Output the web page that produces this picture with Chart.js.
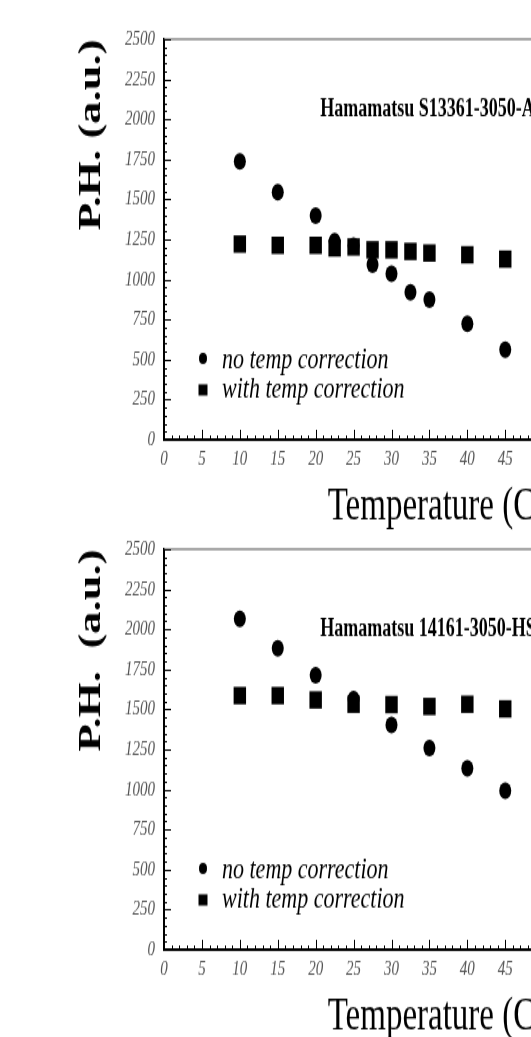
<!DOCTYPE html>
<html>
<head>
<meta charset="utf-8">
<script src="https://cdn.jsdelivr.net/npm/chart.js"></script>
<style>
    html, body { margin: 0; padding: 0; background: #fff; overflow: hidden; width: 531px; height: 1037px; }
    #stage { position: relative; width: 531px; height: 1037px; overflow: hidden; }
    /* the source figure is stretched vertically: canvases are drawn at 400px and shown at 560px */
    #stage canvas { position: absolute; left: 0; width: 760px; height: 560px; }
</style>
</head>
<body>
<div id="stage">
    <canvas id="chartTop" width="760" height="400" style="top:0;width:760px;height:560px"></canvas>
    <canvas id="chartBottom" width="760" height="400" style="top:510px;width:760px;height:560px"></canvas>
</div>
<script>
// ---- data ----
const TEMPS_TOP = [10, 15, 20, 22.5, 25, 27.5, 30, 32.5, 35, 40, 45];
const PH_NO_CORR_TOP = [1737, 1545, 1398, 1240, 1210, 1092, 1036, 919, 874, 724, 562];
const PH_CORR_TOP = [1221, 1213, 1213, 1197, 1203, 1185, 1185, 1175, 1165, 1154, 1127];

const TEMPS_BOTTOM = [10, 15, 20, 25, 30, 35, 40, 45];
const PH_NO_CORR_BOTTOM = [2066, 1882, 1714, 1565, 1404, 1259, 1131, 993];
const PH_CORR_BOTTOM = [1586, 1586, 1559, 1532, 1530, 1518, 1532, 1503];

const SERIES_LABELS = ['no temp correction', 'with temp correction'];
const DEVICE_TOP = 'Hamamatsu S13361-3050-AE';
const DEVICE_BOTTOM = 'Hamamatsu 14161-3050-HS';
const Y_TITLE_TOP = 'P.H. (a.u.)';
const Y_TITLE_BOTTOM = 'P.H.  (a.u.)';
const X_TITLE = 'Temperature (C)';

const X_MIN = 0, X_MAX = 72, X_STEP = 5, X_MINOR = 1;
const Y_MIN = 0, Y_MAX = 2500, Y_STEP = 250, Y_MINOR = 50;

const SERIF = "'Liberation Serif', 'Times New Roman', serif";

const toPoints = (xs, ys) => xs.map((x, i) => ({ x: x, y: ys[i] }));

// inward ticks, grey top frame, device name and the legend inside the plot
const frameDecor = {
    id: 'frameDecor',
    afterDraw(chart, args, opts) {
        const { ctx, chartArea: a, scales: { x, y } } = chart;
        ctx.save();

        ctx.strokeStyle = '#8c8c8c';
        ctx.lineWidth = 1.5;
        ctx.beginPath();
        ctx.moveTo(a.left, a.top);
        ctx.lineTo(a.right, a.top);
        ctx.stroke();

        ctx.strokeStyle = '#000';
        ctx.lineWidth = 1;
        ctx.beginPath();
        for (let v = X_MIN; v <= X_MAX; v += X_MINOR) {
            const px = Math.round(x.getPixelForValue(v)) + 0.5;
            const len = v % X_STEP === 0 ? 7 : 3;
            ctx.moveTo(px, a.bottom);
            ctx.lineTo(px, a.bottom - len);
        }
        for (let v = Y_MIN; v <= Y_MAX; v += Y_MINOR) {
            const py = Math.round(y.getPixelForValue(v)) + 0.5;
            const len = v % Y_STEP === 0 ? 7 : 3;
            ctx.moveTo(a.left, py);
            ctx.lineTo(a.left + len, py);
        }
        ctx.stroke();

        // device name
        ctx.fillStyle = '#000';
        ctx.font = "bold 18px " + SERIF;
        ctx.textAlign = 'left';
        ctx.textBaseline = 'alphabetic';
        ctx.fillText(opts.device, x.getPixelForValue(opts.deviceX), y.getPixelForValue(opts.deviceY));

        // legend
        ctx.font = "italic 22px " + SERIF;
        const markX = 203, textX = 222;
        const rows = [{ mark: a.bottom - 58, text: a.bottom - 51 }, { mark: a.bottom - 35.5, text: a.bottom - 30 }];
        chart.data.datasets.forEach((ds, i) => {
            const r = rows[i];
            ctx.beginPath();
            if (ds.pointStyle === 'rect') {
                ctx.rect(markX - 4.5, r.mark - 4, 9, 8);
            } else {
                ctx.arc(markX, r.mark, 4, 0, Math.PI * 2);
            }
            ctx.fill();
            ctx.fillText(ds.label, textX, r.text);
        });
        ctx.restore();
    }
};

function makeChart(canvasId, temps, noCorr, withCorr, yTitle, device, deviceX, deviceY) {
    const ctx = document.getElementById(canvasId).getContext('2d');
    return new Chart(ctx, {
        type: 'scatter',
        data: {
            datasets: [{
                label: SERIES_LABELS[0],
                data: toPoints(temps, noCorr),
                pointStyle: 'circle',
                pointRadius: 6,
                backgroundColor: '#000',
                borderWidth: 0
            }, {
                label: SERIES_LABELS[1],
                data: toPoints(temps, withCorr),
                pointStyle: 'rect',
                pointRadius: 8.8,
                backgroundColor: '#000',
                borderWidth: 0
            }]
        },
        options: {
            responsive: false,
            maintainAspectRatio: false,
            devicePixelRatio: 1,
            animation: false,
            events: [],
            layout: { padding: { left: 0, right: 50, top: 28, bottom: 0 } },
            scales: {
                x: {
                    type: 'linear',
                    min: X_MIN,
                    max: X_MAX,
                    afterFit: (scale) => { scale.height = 86; },
                    grid: { display: true, drawOnChartArea: false, drawTicks: false },
                    border: { display: true, color: '#000', width: 2 },
                    ticks: {
                        stepSize: X_STEP,
                        padding: 5,
                        color: '#555',
                        font: { family: SERIF, style: 'italic', size: 15 },
                        callback: (v) => String(v)
                    },
                    title: {
                        display: true,
                        text: X_TITLE,
                        color: '#000',
                        font: { family: SERIF, size: 33 },
                        padding: { top: 0, bottom: 18 }
                    }
                },
                y: {
                    type: 'linear',
                    min: Y_MIN,
                    max: Y_MAX,
                    afterFit: (scale) => { scale.width = 164; },
                    grid: { display: true, drawOnChartArea: false, drawTicks: false },
                    border: { display: true, color: '#000', width: 2 },
                    ticks: {
                        stepSize: Y_STEP,
                        padding: 9,
                        color: '#555',
                        font: { family: SERIF, style: 'italic', size: 15 },
                        callback: (v) => String(v)
                    },
                    title: {
                        display: true,
                        text: yTitle,
                        align: 'end',
                        color: '#000',
                        font: { family: SERIF, size: 32, weight: 'bold' },
                        padding: { top: 73, bottom: 0 }
                    }
                }
            },
            plugins: {
                legend: { display: false },
                tooltip: { enabled: false },
                frameDecor: { device: device, deviceX: deviceX, deviceY: deviceY }
            }
        },
        plugins: [frameDecor]
    });
}

document.addEventListener('DOMContentLoaded', () => {
    makeChart('chartTop', TEMPS_TOP, PH_NO_CORR_TOP, PH_CORR_TOP, Y_TITLE_TOP, DEVICE_TOP, 20.6, 2020);
    makeChart('chartBottom', TEMPS_BOTTOM, PH_NO_CORR_BOTTOM, PH_CORR_BOTTOM, Y_TITLE_BOTTOM, DEVICE_BOTTOM, 20.6, 1960);
});
</script>
</body>
</html>
